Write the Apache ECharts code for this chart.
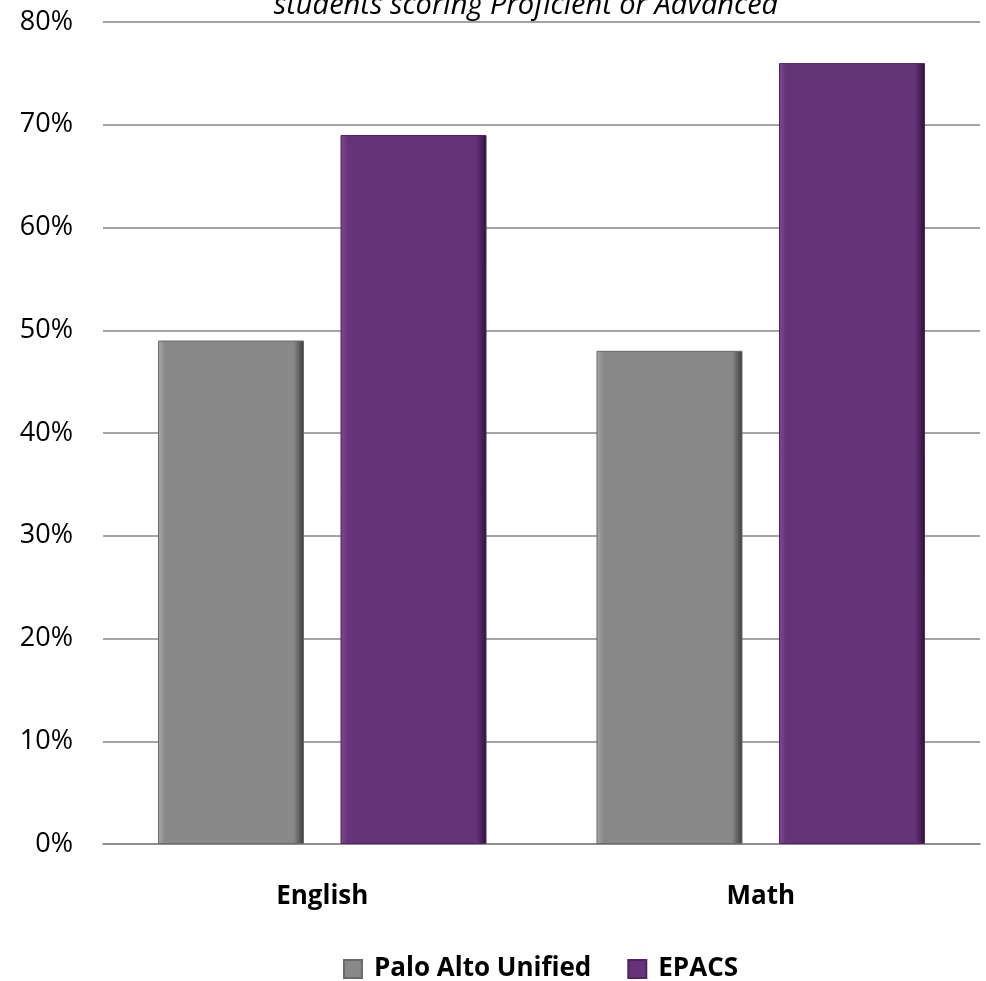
<!DOCTYPE html>
<html>
<head>
<meta charset="utf-8">
<script src="https://cdn.jsdelivr.net/npm/echarts@6/dist/echarts.min.js"></script>
<style>
html,body{margin:0;padding:0;background:#fff;}
#chart{width:986px;height:981px;}
</style>
</head>
<body>
<div id="chart"></div>
<script>
const titleText = 'students scoring Proficient or Advanced';
const categories = ['English', 'Math'];
const seriesNames = ['Palo Alto Unified', 'EPACS'];
const paloAlto = [49, 48];
const epacs = [69, 76];

const chart = echarts.init(document.getElementById('chart'));
const FONT = '"Open Sans", "Liberation Sans", sans-serif';

function bevel(light, main, dark) {
  return new echarts.graphic.LinearGradient(0, 0, 1, 0, [
    {offset: 0, color: light},
    {offset: 0.05, color: main},
    {offset: 0.93, color: main},
    {offset: 1, color: dark}
  ]);
}

chart.setOption({
  animation: false,
  backgroundColor: '#ffffff',
  title: {
    text: titleText,
    left: 521,
    textAlign: 'center',
    top: -14,
    textStyle: {fontFamily: FONT, fontStyle: 'italic', fontWeight: 'normal', fontSize: 29, color: '#000'}
  },
  legend: {
    data: seriesNames,
    top: 956,
    left: 343,
    padding: 0,
    icon: 'rect',
    itemWidth: 18,
    itemHeight: 18,
    itemGap: 36,
    textStyle: {fontFamily: FONT, fontWeight: 'bold', fontSize: 26, color: '#000', padding: [0, 0, 0, 7]}
  },
  grid: {left: 103, right: 6, top: 22, bottom: 137, containLabel: false},
  xAxis: {
    type: 'category',
    data: categories,
    axisLine: {show: true, lineStyle: {color: '#868686', width: 1.5}},
    axisTick: {show: false},
    axisLabel: {fontFamily: FONT, fontWeight: 'bold', fontSize: 26, color: '#000', margin: 40}
  },
  yAxis: {
    type: 'value',
    min: 0,
    max: 80,
    interval: 10,
    axisLine: {show: false},
    axisTick: {show: false},
    splitLine: {lineStyle: {color: '#868686', width: 1.5}},
    axisLabel: {formatter: '{value}%', fontFamily: FONT, fontSize: 27, color: '#000', margin: 30}
  },
  series: [
    {
      name: seriesNames[0],
      type: 'bar',
      data: paloAlto,
      barWidth: '33.3%',
      barGap: '25%',
      itemStyle: {color: bevel('#a8a8a8', '#888888', '#3c3c3c'), borderColor: '#6a6a6a', borderWidth: 1}
    },
    {
      name: seriesNames[1],
      type: 'bar',
      data: epacs,
      barWidth: '33.3%',
      itemStyle: {color: bevel('#7f4a93', '#66327a', '#2e1238'), borderColor: '#4e2560', borderWidth: 1}
    }
  ]
});
</script>
</body>
</html>
